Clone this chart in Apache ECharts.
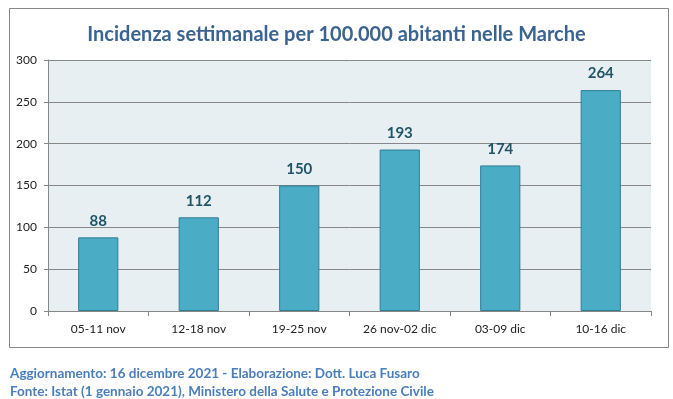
<!DOCTYPE html>
<html>
<head>
<meta charset="utf-8">
<script src="https://cdn.jsdelivr.net/npm/echarts@6/dist/echarts.min.js"></script>
<style>
html,body{margin:0;padding:0;background:#fff;}
#chart{width:673px;height:399px;}
</style>
</head>
<body>
<div id="chart"></div>
<script>
var categories = ["05-11 nov", "12-18 nov", "19-25 nov", "26 nov-02 dic", "03-09 dic", "10-16 dic"];
var incidenza = [88, 112, 150, 193, 174, 264];
var yTicks = [0, 50, 100, 150, 200, 250, 300];

var FONT = "Lato";
var chart = echarts.init(document.getElementById('chart'), null, {renderer: 'canvas'});
chart.setOption({
  animation: false,
  backgroundColor: '#ffffff',
  title: [
    {
      text: 'Incidenza settimanale per 100.000 abitanti nelle Marche',
      left: 'center', top: 20,
      textStyle: {fontFamily: FONT, fontSize: 20, fontWeight: 'bold', color: '#3B6391'}
    },
    {
      text: 'Aggiornamento: 16 dicembre 2021 - Elaborazione: Dott. Luca Fusaro',
      left: 5, top: 362,
      textStyle: {fontFamily: FONT, fontSize: 13.5, fontWeight: 'bold', color: '#4A7EBB'}
    },
    {
      text: 'Fonte: Istat (1 gennaio 2021), Ministero della Salute e Protezione Civile',
      left: 5, top: 380,
      textStyle: {fontFamily: FONT, fontSize: 13.5, fontWeight: 'bold', color: '#4A7EBB'}
    }
  ],
  graphic: [{
    type: 'rect', left: 7, top: 6, z: -1,
    shape: {width: 659, height: 339},
    style: {fill: 'none', stroke: '#868686', lineWidth: 1}
  }],
  grid: {
    left: 48, right: 22, top: 60, bottom: 88,
    show: true, backgroundColor: '#E8EFF3', borderWidth: 0
  },
  xAxis: {
    type: 'category',
    data: categories,
    axisLine: {lineStyle: {color: '#868686', width: 1}},
    axisTick: {show: true, length: 5, lineStyle: {color: '#868686'}},
    axisLabel: {fontFamily: FONT, fontSize: 12, color: '#222222', margin: 12}
  },
  yAxis: {
    type: 'value',
    min: yTicks[0], max: yTicks[yTicks.length - 1], interval: 50,
    axisLine: {show: true, lineStyle: {color: '#868686', width: 1}},
    axisTick: {show: true, length: 4, lineStyle: {color: '#868686'}},
    axisLabel: {fontFamily: FONT, fontSize: 12, color: '#222222', margin: 11},
    splitLine: {show: true, lineStyle: {color: '#878787', width: 1}}
  },
  series: [{
    type: 'bar',
    data: incidenza,
    barCategoryGap: '60%',
    itemStyle: {color: '#4BACC6', borderColor: '#2E7E94', borderWidth: 1},
    label: {
      show: true, position: 'top', distance: 9,
      fontFamily: FONT, fontSize: 15, fontWeight: 'bold', color: '#1F5466'
    }
  }]
});
</script>
</body>
</html>
